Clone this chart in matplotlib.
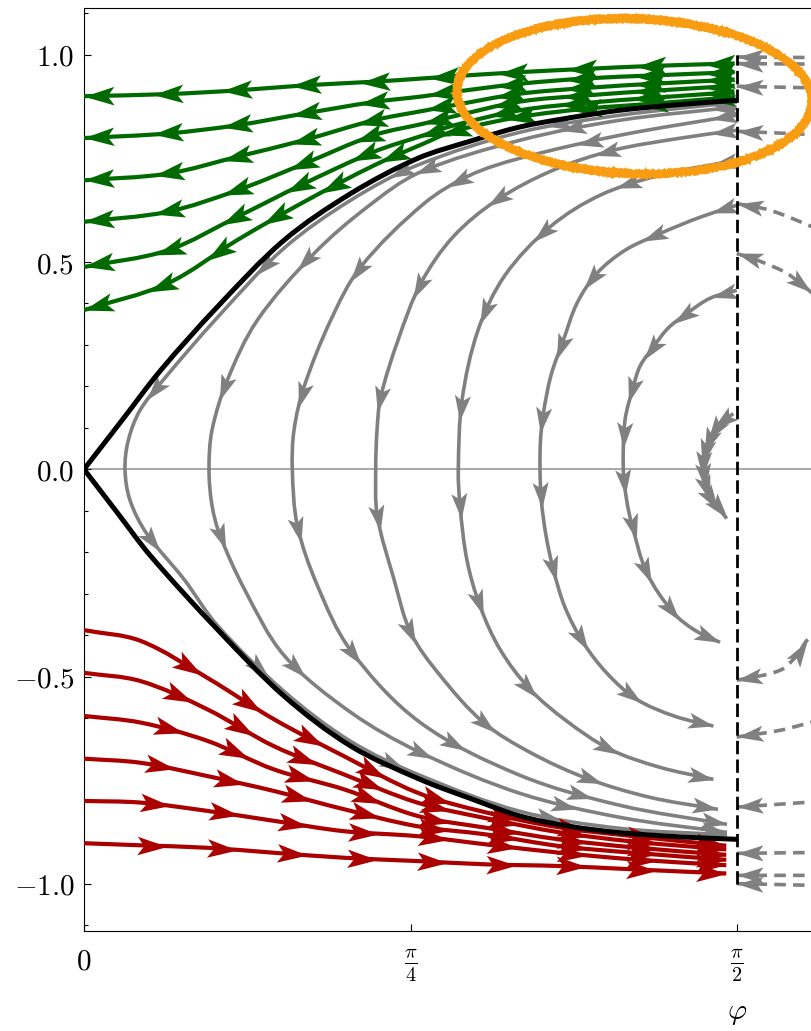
import numpy as np
import matplotlib
matplotlib.use("Agg")
import matplotlib.pyplot as plt
from matplotlib.path import Path
from matplotlib.patches import PathPatch, Ellipse
from matplotlib.markers import MarkerStyle
from matplotlib.transforms import Affine2D, ScaledTranslation
from matplotlib.bezier import BezierSegment
from matplotlib.ticker import MultipleLocator, NullLocator

plt.rcParams['mathtext.fontset'] = 'cm'
plt.rcParams['font.family'] = ['DejaVu Serif']

# ---- separatrix (black) ----
sep_phi_up = [0, 0.0914, 0.1845, 0.3207, 0.4811, 0.6415, 0.8018, 0.9285, 1.0488, 1.1691, 1.2893, 1.4337, 1.5708]
sep_y_up = [0, 0.1182, 0.2388, 0.3916, 0.5525, 0.6651, 0.7496, 0.7913, 0.8258, 0.8480, 0.8661, 0.8799, 0.8903]
sep_phi_low = [0, 0.0794, 0.1604, 0.3207, 0.4811, 0.6415, 0.8082, 0.9285, 1.0488, 1.1691, 1.2893, 1.4337, 1.5708]
sep_y_low = [0, -0.1037, -0.2092, -0.3860, -0.5469, -0.6675, -0.7479, -0.7937, -0.8364, -0.8613, -0.8765, -0.8866, -0.8926]

# ---- green trajectories (flow to the left) ----
green_phi = [0, 0.2004, 0.3688, 0.5292, 0.6976, 0.8179, 0.8876, 1.0488, 1.2107, 1.3687, 1.565]
green_y = [
    [0.900, 0.905, 0.914, 0.926, 0.935, 0.943, 0.948, 0.958, 0.966, 0.973, 0.979],
    [0.799, 0.810, 0.830, 0.858, 0.886, 0.900, 0.910, 0.930, 0.943, 0.950, 0.958],
    [0.697, 0.713, 0.754, 0.794, 0.842, 0.865, 0.878, 0.906, 0.920, 0.930, 0.940],
    [0.597, 0.621, 0.673, 0.737, 0.806, 0.834, 0.851, 0.887, 0.902, 0.913, 0.925],
    [0.488, 0.528, 0.609, 0.689, 0.766, 0.806, 0.829, 0.866, 0.884, 0.896, 0.910],
    [0.384, 0.448, 0.553, 0.645, 0.733, 0.786, 0.815, 0.850, 0.870, 0.882, 0.898],
]

# ---- red trajectories (flow to the right) ----
red_phi = [0, 0.1364, 0.2966, 0.4570, 0.6254, 0.8018, 0.9687, 1.1450, 1.3214, 1.545]
red_y = [
    [-0.388, -0.414, -0.503, -0.603, -0.692, -0.780, -0.828, -0.864, -0.885, -0.908],
    [-0.491, -0.511, -0.579, -0.668, -0.736, -0.804, -0.842, -0.876, -0.898, -0.917],
    [-0.595, -0.611, -0.655, -0.724, -0.772, -0.836, -0.865, -0.893, -0.912, -0.930],
    [-0.698, -0.708, -0.740, -0.776, -0.820, -0.861, -0.881, -0.909, -0.925, -0.942],
    [-0.800, -0.804, -0.824, -0.848, -0.873, -0.885, -0.905, -0.925, -0.941, -0.955],
    [-0.902, -0.907, -0.913, -0.925, -0.937, -0.945, -0.953, -0.957, -0.965, -0.975],
]

# ---- grey trajectories inside the separatrix (start top, end bottom) ----
grey_phi = [
    [1.5701, 1.2893, 1.0488, 0.8018, 0.6415, 0.4811, 0.3207, 0.1900, 0.1347, 0.1066, 0.0986, 0.1107, 0.1508,
     0.2406, 0.3207, 0.4811, 0.6415, 0.8082, 1.0488, 1.2893, 1.5467],
    [1.5701, 1.2893, 1.0488, 0.8082, 0.6815, 0.5533, 0.4169, 0.3447, 0.3079, 0.3007, 0.3079, 0.3271, 0.3873,
     0.4811, 0.6415, 0.8082, 1.0488, 1.2893, 1.5467],
    [1.5701, 1.2893, 1.0488, 0.9285, 0.8179, 0.6656, 0.5934, 0.5292, 0.5051, 0.5011, 0.5131, 0.5612, 0.6415,
     0.8082, 1.0488, 1.2893, 1.5467],
    [1.5701, 1.4337, 1.2732, 1.1282, 0.9927, 0.8876, 0.8099, 0.7553, 0.7137, 0.7049, 0.7017, 0.7055, 0.7457,
     0.7859, 0.8564, 0.9605, 1.0729, 1.2093, 1.3615, 1.5251],
    [1.5701, 1.3856, 1.2412, 1.1210, 1.0127, 0.9478, 0.9093, 0.9004, 0.9045, 0.9213, 0.9526, 1.0007, 1.0729,
     1.1594, 1.2653, 1.3856, 1.5138],
    [1.5701, 1.4818, 1.3856, 1.3014, 1.2333, 1.1859, 1.1530, 1.1234, 1.1049, 1.0981, 1.0969, 1.1001, 1.1113,
     1.1289, 1.1570, 1.2011, 1.2581, 1.3295, 1.4217, 1.5138],
    [1.5701, 1.5058, 1.4498, 1.4048, 1.3695, 1.3374, 1.3213, 1.3014, 1.2973, 1.3054, 1.3174, 1.3536, 1.4176,
     1.4698, 1.5299],
    [1.5619, 1.5219, 1.4979, 1.4898, 1.5018, 1.5460],
]
grey_y = [
    [0.8854, 0.854, 0.813, 0.7334, 0.649, 0.5332, 0.366, 0.2147, 0.1423, 0.0700, 0.0, -0.0748, -0.1551,
     -0.2654, -0.3764, -0.5356, -0.6562, -0.7382, -0.8251, -0.8661, -0.8818],
    [0.8741, 0.8420, 0.7937, 0.7165, 0.6328, 0.5204, 0.3595, 0.2147, 0.0941, 0.0, -0.0869, -0.1592, -0.2919,
     -0.4487, -0.5862, -0.6828, -0.7817, -0.8396, -0.8758],
    [0.8541, 0.8058, 0.7503, 0.7093, 0.6410, 0.4881, 0.3595, 0.1986, 0.0941, 0.0, -0.1351, -0.2799, -0.4367,
     -0.6104, -0.7382, -0.8106, -0.8565],
    [0.8178, 0.7986, 0.7696, 0.7214, 0.6490, 0.5604, 0.4480, 0.3112, 0.1744, 0.0941, 0.0, -0.1127, -0.2654,
     -0.3940, -0.4970, -0.6104, -0.6828, -0.7455, -0.7913, -0.8203],
    [0.7455, 0.7093, 0.6610, 0.5846, 0.4680, 0.3353, 0.1665, 0.0, -0.0885, -0.2195, -0.3298, -0.4343, -0.5308,
     -0.6060, -0.6755, -0.7189, -0.7479],
    [0.6369, 0.6080, 0.5686, 0.5283, 0.4721, 0.4005, 0.3112, 0.2268, 0.1344, 0.0700, 0.0, -0.0748, -0.1592,
     -0.2413, -0.3329, -0.4181, -0.4922, -0.5549, -0.5959, -0.6193],
    [0.4318, 0.4125, 0.3756, 0.3402, 0.2951, 0.2485, 0.1986, 0.1182, 0.0, -0.0748, -0.1310, -0.2492, -0.3457,
     -0.3884, -0.4174],
    [0.1344, 0.1020, 0.0538, 0.0, -0.0586, -0.1189],
]
grey_arrow_gap = [170, 150, 135, 120, 100, 76, 47, 12]   # px between arrow heads

# ---- dashed grey trajectories beyond phi = pi/2 ----
dashed_phi = [
    [1.5701, 1.7945], [1.5701, 1.7945], [1.5701, 1.7945], [1.5701, 1.7945],
    [1.5701, 1.6502, 1.7488, 1.7945],
    [1.5701, 1.6261, 1.6862, 1.7295, 1.7704],
    [1.5701, 1.6742, 1.7151, 1.7391, 1.7704],
    [1.5701, 1.6742, 1.7488, 1.7945],
    [1.5701, 1.7488, 1.7945], [1.5701, 1.7945], [1.5701, 1.7945], [1.5701, 1.7488, 1.7945],
]
dashed_y = [
    [0.9947, 0.9928], [0.9788, 0.9770], [0.9240, 0.9192], [0.8154, 0.8058],
    [0.6410, 0.6248, 0.5862, 0.5645],
    [0.5204, 0.5018, 0.4753, 0.4439, 0.4077],
    [-0.5090, -0.4849, -0.4487, -0.4125, -0.3884],
    [-0.6458, -0.6297, -0.6104, -0.5983],
    [-0.8147, -0.8026, -0.7980], [-0.9264, -0.9240], [-0.9795, -0.9795], [-0.9995, -1.0036, -1.006],
]
dashed_mid_arrow = [False, False, False, False, False, True, True, False, False, False, False, False]

boundary_phi = np.pi / 2
boundary_y = [-1.0, 1.0]

GREEN = '#006a00'
RED = '#aa0000'
GREY = '#808080'
ORANGE = '#f89d12'

fig = plt.figure(figsize=(8.11, 10.31), dpi=100)
ax = fig.add_axes([84 / 811, 100.3 / 1031, 1306 / 811, 922.4 / 1031])
ax.set_xlim(0, np.pi)
ax.set_ylim(-1.113, 1.112)

HEAD = Path([(1, 0), (-1, 0.62), (-0.55, 0), (-1, -0.62), (1, 0)],
            [Path.MOVETO, Path.LINETO, Path.LINETO, Path.LINETO, Path.CLOSEPOLY])


def smooth(phi, y):
    pts = ax.transData.transform(np.column_stack([phi, y]))
    n = len(pts)
    verts = [pts[0]]
    codes = [Path.MOVETO]
    for i in range(n - 1):
        p0, p1 = pts[max(i - 1, 0)], pts[i]
        p2, p3 = pts[i + 1], pts[min(i + 2, n - 1)]
        d = np.hypot(*(p2 - p1))
        t1 = (p2 - p0) / np.hypot(*(p2 - p0))
        t2 = (p3 - p1) / np.hypot(*(p3 - p1))
        verts += [p1 + t1 * d / 3, p2 - t2 * d / 3, p2]
        codes += [Path.CURVE4] * 3
    disp = np.array(verts)
    dense = [disp[0]]
    t = np.linspace(0, 1, 30)[1:]
    for k in range(1, len(disp), 3):
        dense.extend(BezierSegment(disp[k - 1:k + 3])(t))
    path = Path(ax.transData.inverted().transform(disp), codes)
    return path, np.array(dense)


def draw(phi, y, color, lw, z, ls='-'):
    path, dense = smooth(phi, y)
    ax.add_patch(PathPatch(path, fill=False, edgecolor=color, lw=lw, zorder=z,
                           linestyle=ls, capstyle='butt'))
    return dense


def arrows(dense, positions, color, size_px, z, reverse=False):
    seg = np.diff(dense, axis=0)
    s = np.concatenate([[0], np.cumsum(np.hypot(seg[:, 0], seg[:, 1]))])
    for p in positions:
        x0 = np.interp(p, s, dense[:, 0])
        y0 = np.interp(p, s, dense[:, 1])
        dx = np.interp(p + 4, s, dense[:, 0]) - np.interp(p - 4, s, dense[:, 0])
        dy = np.interp(p + 4, s, dense[:, 1]) - np.interp(p - 4, s, dense[:, 1])
        ang = np.degrees(np.arctan2(dy, dx)) + (180 if reverse else 0)
        xd, yd = ax.transData.inverted().transform((x0, y0))
        ax.plot([xd], [yd], ls='none', marker=MarkerStyle(HEAD, transform=Affine2D().rotate_deg(ang)),
                ms=size_px / 1.389, color=color, mew=0, zorder=z)


def length(dense):
    seg = np.diff(dense, axis=0)
    return np.hypot(seg[:, 0], seg[:, 1]).sum()


def even_positions(L, h, gap):
    n = max(int(round((L - 2 * h) / gap)), 1) + 1
    return np.linspace(h, L - h, n)


GREY_HEAD = 26
COLOR_HEAD = 30

ax.axhline(0, color='#9a9a9a', lw=1.2, zorder=1)

# grey inner trajectories
for ph, yy, gap in zip(grey_phi, grey_y, grey_arrow_gap):
    dense = draw(ph, yy, GREY, 2.6, 2)
    arrows(dense, even_positions(length(dense), GREY_HEAD / 2, gap), GREY, GREY_HEAD, 2.1)

# dashed trajectories
for ph, yy, mid in zip(dashed_phi, dashed_y, dashed_mid_arrow):
    dense = draw(ph, yy, GREY, 2.6, 2, ls=(0, (3.2, 2.0)))
    arrows(dense, [GREY_HEAD / 2], GREY, GREY_HEAD, 2.1, reverse=True)
    if mid:
        arrows(dense, [72], GREY, GREY_HEAD, 2.1)

# green
for yy in green_y:
    dense = draw(green_phi[::-1], yy[::-1], GREEN, 3.0, 3)
    arrows(dense, even_positions(length(dense), COLOR_HEAD / 2, 70), GREEN, COLOR_HEAD, 3.1)

# red
for yy in red_y:
    dense = draw(red_phi, yy, RED, 3.0, 3)
    L = length(dense)
    pos = np.arange(L - COLOR_HEAD / 2, 45, -70)
    arrows(dense, pos, RED, COLOR_HEAD, 3.1)

# separatrix
draw(sep_phi_up, sep_y_up, 'black', 3.6, 4)
draw(sep_phi_low, sep_y_low, 'black', 3.6, 4)

ax.plot([boundary_phi, boundary_phi], boundary_y, color='black', lw=2.0, ls=(0, (4.8, 1.9)), zorder=4.5)

# orange highlight ring, drawn as a few rough overlapping strokes
ring_t = ScaledTranslation(1.3242, 0.900, ax.transData)
for dw, dh, lw in [(0, 0, 4.0), (-5, -5, 1.8), (5, 5, 1.8), (2, -3, 1.8), (-2, 3, 1.8), (-7, -7, 0.9), (7, 7, 0.9)]:
    e = Ellipse((0, 0), 355 + dw, 155 + dh, angle=-2, fill=False, edgecolor=ORANGE, lw=lw,
                transform=ring_t, zorder=6)
    e.set_sketch_params(scale=1.0, length=2, randomness=3)
    ax.add_patch(e)

ax.set_yticks([-1, -0.5, 0, 0.5, 1], labels=['$-1.0$', '$-0.5$', '$0.0$', '$0.5$', '$1.0$'])
ax.set_xticks([0, np.pi / 4, np.pi / 2], labels=['$0$', r'$\frac{\pi}{4}$', r'$\frac{\pi}{2}$'])
ax.yaxis.set_minor_locator(MultipleLocator(0.1))
ax.xaxis.set_minor_locator(NullLocator())
ax.tick_params(which='both', direction='in', labelsize=21, top=False, right=False)
ax.tick_params(which='major', length=5, width=0.8)
ax.tick_params(which='minor', length=3, width=0.8)
ax.tick_params(axis='y', pad=7)
ax.tick_params(axis='x', pad=12)
ax.set_xlabel(r'$\varphi$', fontsize=21, labelpad=11)

fig.savefig('out.png', dpi=100)
